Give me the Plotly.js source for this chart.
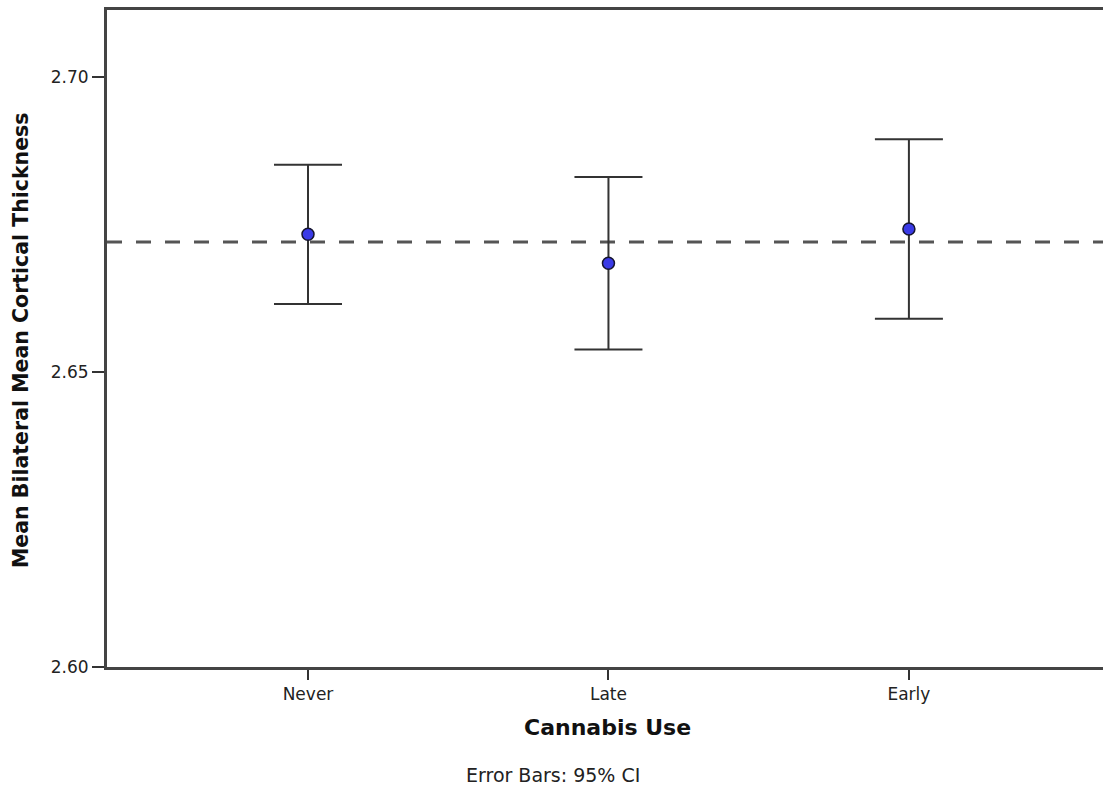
<!DOCTYPE html>
<html>
<head>
<meta charset="utf-8">
<script src="https://cdn.plot.ly/plotly-3.0.1.min.js"></script>
<style>
html,body{margin:0;padding:0;background:#fff;}
#chart{width:1103px;height:787px;}
</style>
</head>
<body>
<div id="chart"></div>
<script>
// Data
const categories = ["Never", "Late", "Early"];
const means = [2.6733, 2.6684, 2.6742];
const ciUpper = [2.6851, 2.6830, 2.6894];
const ciLower = [2.6615, 2.6538, 2.6590];
const referenceLine = 2.6720;
const yTickVals = [2.60, 2.65, 2.70];
const yTickText = ["2.60", "2.65", "2.70"];
const xTitle = "Cannabis Use";
const yTitle = "Mean Bilateral Mean Cortical Thickness";
const note = "Error Bars: 95% CI";

const errPlus = means.map((m, i) => ciUpper[i] - m);
const errMinus = means.map((m, i) => m - ciLower[i]);

const font = "DejaVu Sans, Verdana, sans-serif";

const trace = {
  type: "scatter",
  mode: "markers",
  x: categories,
  y: means,
  marker: {size: 12, color: "#3a3ae6", line: {color: "#15152e", width: 1.5}},
  error_y: {
    type: "data",
    symmetric: false,
    array: errPlus,
    arrayminus: errMinus,
    color: "#333333",
    thickness: 2,
    width: 34
  },
  hoverinfo: "x+y",
  showlegend: false
};

const layout = {
  width: 1103,
  height: 787,
  margin: {l: 107, r: 0, t: 10, b: 120},
  paper_bgcolor: "#ffffff",
  plot_bgcolor: "#ffffff",
  font: {family: font, color: "#222222"},
  xaxis: {
    type: "category",
    range: [-0.669, 2.646],
    showgrid: false,
    zeroline: false,
    showline: true,
    linecolor: "#444444",
    linewidth: 3,
    mirror: true,
    ticks: "outside",
    ticklen: 10,
    tickwidth: 2,
    tickcolor: "#333333",
    tickfont: {family: font, size: 17, color: "#222222"},
    fixedrange: true
  },
  yaxis: {
    range: [2.60, 2.7113],
    tickvals: yTickVals,
    ticktext: yTickText,
    showgrid: false,
    zeroline: false,
    showline: true,
    linecolor: "#444444",
    linewidth: 3,
    mirror: false,
    ticks: "outside",
    ticklen: 12,
    tickwidth: 2,
    tickcolor: "#333333",
    tickfont: {family: font, size: 17, color: "#222222"},
    fixedrange: true
  },
  shapes: [{
    type: "line",
    xref: "paper", x0: 0, x1: 1,
    yref: "y", y0: referenceLine, y1: referenceLine,
    line: {color: "#555555", width: 3, dash: "15px,14px"},
    layer: "below"
  }],
  annotations: [
    {text: "<b>" + xTitle + "</b>", xref: "paper", yref: "paper", x: 0.503, y: -0.0928,
     xanchor: "center", yanchor: "middle", showarrow: false,
     font: {family: font, size: 22, color: "#111111"}},
    {text: note, xref: "paper", yref: "paper", x: 0.4478, y: -0.1644,
     xanchor: "center", yanchor: "middle", showarrow: false,
     font: {family: font, size: 19, color: "#222222"}},
    {text: "<b>" + yTitle + "</b>", xref: "paper", yref: "paper", x: -0.0863, y: 0.4977,
     xanchor: "center", yanchor: "middle", showarrow: false, textangle: -90,
     font: {family: font, size: 20.5, color: "#111111"}}
  ]
};

Plotly.newPlot("chart", [trace], layout, {displayModeBar: false, staticPlot: true});
</script>
</body>
</html>
